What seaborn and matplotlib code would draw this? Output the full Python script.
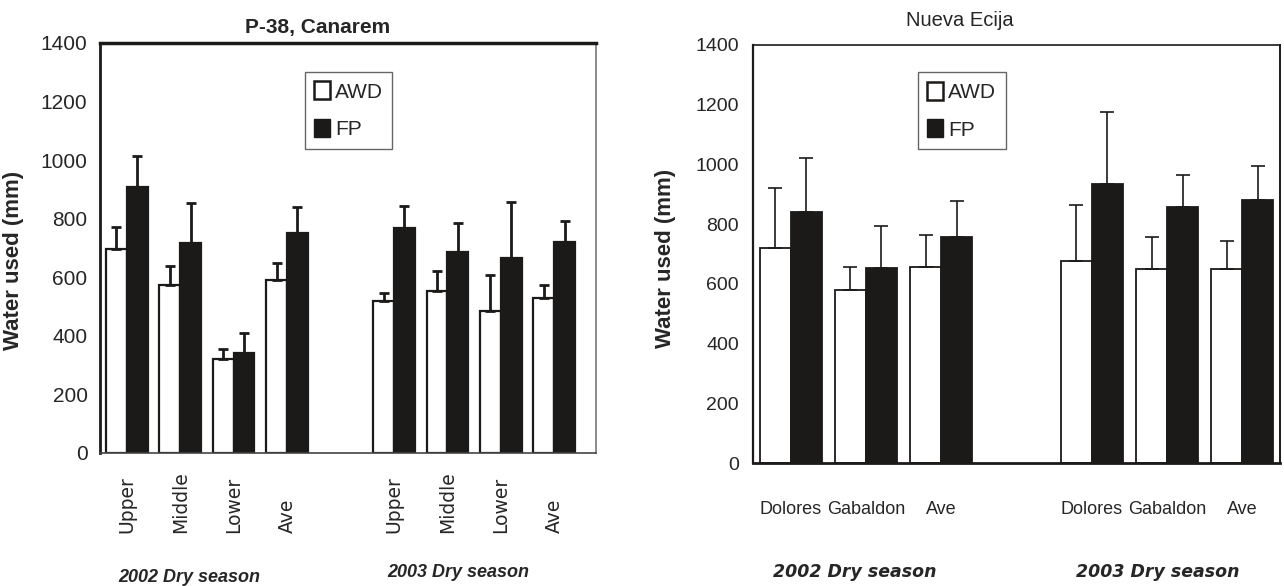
import matplotlib
matplotlib.use('Agg')
import matplotlib.pyplot as plt
from matplotlib.patches import Patch
import numpy as np
import pandas as pd
import seaborn as sns

# ---- data ----
treatments = ["AWD", "FP"]
seasons = ["2002 Dry season", "2003 Dry season"]

# P-38, Canarem
left_sites = ["Upper", "Middle", "Lower", "Ave"]
left_awd_2002 = [695, 572, 322, 591]
left_awd_2002_err = [78, 67, 33, 59]
left_fp_2002 = [909, 716, 341, 750]
left_fp_2002_err = [105, 137, 70, 91]
left_awd_2003 = [519, 553, 486, 530]
left_awd_2003_err = [26, 67, 122, 43]
left_fp_2003 = [770, 685, 665, 719]
left_fp_2003_err = [73, 101, 191, 74]

# Nueva Ecija
right_sites = ["Dolores", "Gabaldon", "Ave"]
right_awd_2002 = [720, 580, 658]
right_awd_2002_err = [200, 76, 107]
right_fp_2002 = [842, 654, 756]
right_fp_2002_err = [179, 140, 120]
right_awd_2003 = [678, 649, 649]
right_awd_2003_err = [185, 108, 96]
right_fp_2003 = [935, 859, 881]
right_fp_2003_err = [241, 104, 114]

yticks = [0, 200, 400, 600, 800, 1000, 1200, 1400]

BLACK = '#1c1a19'


def build_frame(sites, awd02, awd02e, fp02, fp02e, awd03, awd03e, fp03, fp03e):
    rows = []
    for season, awd, awde, fp, fpe in [(seasons[0], awd02, awd02e, fp02, fp02e),
                                       (seasons[1], awd03, awd03e, fp03, fp03e)]:
        for i, s in enumerate(sites):
            key = f"{season[:4]} {s}"
            rows.append({'key': key, 'site': s, 'treatment': 'AWD', 'value': awd[i], 'err': awde[i]})
            rows.append({'key': key, 'site': s, 'treatment': 'FP', 'value': fp[i], 'err': fpe[i]})
    df = pd.DataFrame(rows)
    order = [f"2002 {s}" for s in sites] + ["gap"] + [f"2003 {s}" for s in sites]
    return df, order


def draw_panel(ax, df, order, sites, width, err_lw, capsize, bar_lw):
    sns.barplot(data=df, x='key', y='value', hue='treatment', order=order,
                hue_order=treatments, palette=['white', BLACK], edgecolor=BLACK,
                linewidth=bar_lw, width=width, errorbar=None, legend=False,
                saturation=1, ax=ax)
    # upward error bars only, placed on the drawn bars
    for container, level in zip(ax.containers, treatments):
        for bar in container:
            xc = bar.get_x() + bar.get_width() / 2
            key = order[int(round(xc))]
            row = df[(df['key'] == key) & (df['treatment'] == level)].iloc[0]
            ax.errorbar(xc, row['value'], yerr=[[0], [row['err']]], fmt='none',
                        ecolor=BLACK, elinewidth=err_lw, capsize=capsize,
                        capthick=err_lw, zorder=1)
    ax.set_ylim(0, 1400)
    ax.set_yticks(yticks)
    ax.set_xlabel('')
    # boundary ticks (major, unlabeled) and centred labels (minor)
    ax.set_xticks(np.arange(-0.5, len(order) + 0.5, 1.0))
    ax.set_xticklabels([])
    labels = list(sites) + [''] + list(sites)
    ax.set_xticks(np.arange(len(order)), minor=True)
    return labels


fig = plt.figure(figsize=(12.84, 5.86), dpi=100)
sns.set_style('white')
plt.rcParams['font.family'] = ['Liberation Sans', 'DejaVu Sans']

W, H = 1284, 586
ax1 = fig.add_axes([100 / W, 1 - 453 / H, 496 / W, 410 / H])
ax2 = fig.add_axes([753 / W, 1 - 463 / H, 527 / W, 418 / H])

# ---- left panel ----
df_l, order_l = build_frame(left_sites, left_awd_2002, left_awd_2002_err, left_fp_2002,
                            left_fp_2002_err, left_awd_2003, left_awd_2003_err,
                            left_fp_2003, left_fp_2003_err)
labels_l = draw_panel(ax1, df_l, order_l, left_sites, 0.78, 2.0, 3.8, 1.6)
ax1.set_xlim(-0.5, 8.78)
ax1.set_xticklabels(labels_l, minor=True, rotation=90, va='bottom')
ax1.tick_params(axis='x', which='minor', length=0, pad=57.6,
                labelfontfamily='DejaVu Sans', labelsize=13.5)
ax1.tick_params(axis='x', which='major', length=6, width=1, color='#444444', direction='out')
ax1.tick_params(axis='y', length=5, width=1.5, color=BLACK, direction='out', pad=4,
                labelsize=15)
for side, lw, col in [('top', 2.5, BLACK), ('left', 2.0, BLACK),
                      ('right', 1.2, '#777777'), ('bottom', 1.2, '#444444')]:
    ax1.spines[side].set_visible(True)
    ax1.spines[side].set_linewidth(lw)
    ax1.spines[side].set_color(col)
ax1.set_ylabel('Water used (mm)', fontsize=16, fontweight='bold')
ax1.yaxis.set_label_coords(-0.153, 0.47)
fig.text(318 / W, 1 - 28 / H, 'P-38, Canarem', ha='center', va='center',
         fontsize=15, fontweight='bold')

# ---- right panel ----
df_r, order_r = build_frame(right_sites, right_awd_2002, right_awd_2002_err, right_fp_2002,
                            right_fp_2002_err, right_awd_2003, right_awd_2003_err,
                            right_fp_2003, right_fp_2003_err)
labels_r = draw_panel(ax2, df_r, order_r, right_sites, 0.82, 1.2, 5.2, 1.3)
ax2.set_xlim(-0.5, 6.5)
ax2.set_xticklabels(labels_r, minor=True)
ax2.tick_params(axis='x', which='minor', length=0, pad=27, labelsize=13)
ax2.tick_params(axis='x', which='major', length=8, width=1.5, color=BLACK, direction='out')
ax2.tick_params(axis='y', length=6, width=1.5, color=BLACK, direction='out', pad=4,
                labelsize=14)
for side, lw in [('top', 1.2), ('left', 1.6), ('right', 1.4), ('bottom', 2.0)]:
    ax2.spines[side].set_visible(True)
    ax2.spines[side].set_linewidth(lw)
    ax2.spines[side].set_color(BLACK)
ax2.set_ylabel('Water used (mm)', fontsize=16, fontweight='bold')
ax2.yaxis.set_label_coords(-0.146, 0.49)
fig.text(960 / W, 1 - 21 / H, 'Nueva Ecija', ha='center', va='center', fontsize=14.5)

# ---- legends ----
handles = [Patch(facecolor='white', edgecolor=BLACK, linewidth=1.8, label='AWD'),
           Patch(facecolor=BLACK, edgecolor=BLACK, linewidth=1.0, label='FP')]
for ax, anchor in [(ax1, (0.413, 0.929)), (ax2, (0.313, 0.935))]:
    leg = ax.legend(handles=handles, loc='upper left', bbox_to_anchor=anchor,
                    frameon=True, fancybox=False, framealpha=1, edgecolor='#666666',
                    fontsize=15, handlelength=0.75, handleheight=0.95,
                    handletextpad=0.25, labelspacing=0.85, borderpad=0.45,
                    borderaxespad=0)
    leg.get_frame().set_linewidth(1.0)

# ---- season captions ----
fig.text(189 / W, 1 - 582 / H, seasons[0], ha='center', va='baseline', fontsize=13,
         fontweight='bold', fontstyle='italic')
fig.text(458 / W, 1 - 577 / H, seasons[1], ha='center', va='baseline', fontsize=13,
         fontweight='bold', fontstyle='italic')
fig.text(855 / W, 1 - 577 / H, seasons[0], ha='center', va='baseline', fontsize=12.5,
         fontweight='bold', fontstyle='italic', family='DejaVu Sans')
fig.text(1158 / W, 1 - 577 / H, seasons[1], ha='center', va='baseline', fontsize=12.5,
         fontweight='bold', fontstyle='italic', family='DejaVu Sans')

fig.savefig('out.png', dpi=100, facecolor='white')
